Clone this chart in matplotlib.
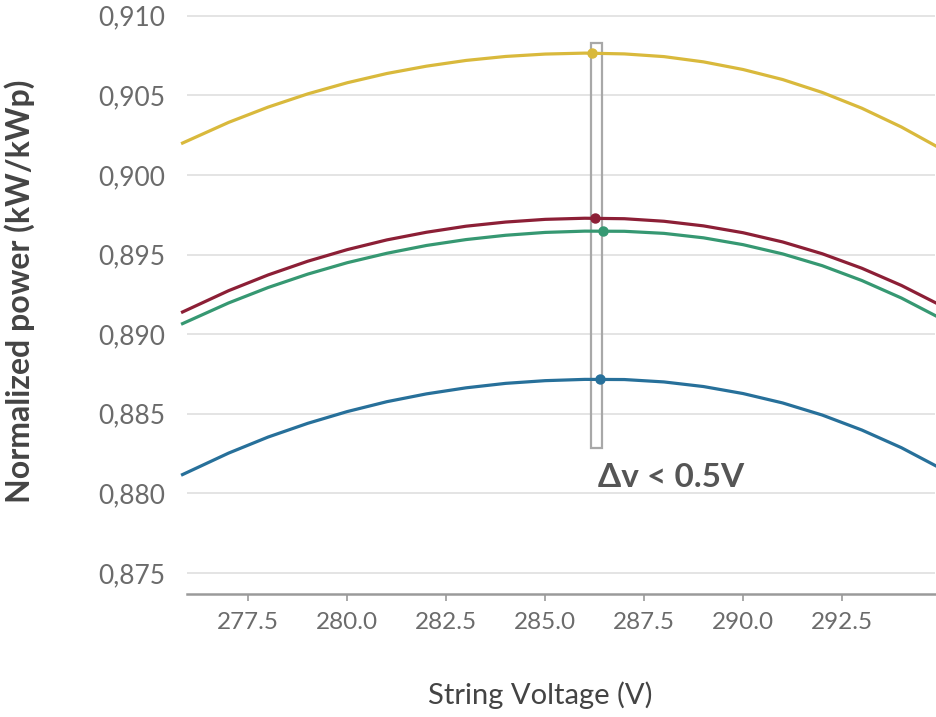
import matplotlib
matplotlib.use("Agg")
import matplotlib.pyplot as plt
from matplotlib.patches import Rectangle
from matplotlib.ticker import FixedLocator, FixedFormatter

plt.rcParams['font.family'] = ['Lato', 'DejaVu Sans']

# ---- data ----
voltage = [275.8, 277, 278, 279, 280, 281, 282, 283, 284, 285, 286,
           287, 288, 289, 290, 291, 292, 293, 294, 295]
power_yellow = [0.90196, 0.90330, 0.90426, 0.90509, 0.90579, 0.90637, 0.90683,
                0.90719, 0.90744, 0.90759, 0.90765, 0.90760, 0.90743, 0.90710,
                0.90662, 0.90599, 0.90518, 0.90419, 0.90301, 0.90164]
power_red = [0.89135, 0.89273, 0.89372, 0.89458, 0.89531, 0.89592, 0.89640,
             0.89678, 0.89704, 0.89721, 0.89728, 0.89725, 0.89709, 0.89680,
             0.89637, 0.89579, 0.89505, 0.89414, 0.89306, 0.89180]
power_green = [0.89062, 0.89196, 0.89293, 0.89377, 0.89449, 0.89508, 0.89557,
               0.89594, 0.89621, 0.89639, 0.89647, 0.89646, 0.89633, 0.89605,
               0.89562, 0.89504, 0.89430, 0.89337, 0.89227, 0.89098]
power_blue = [0.88114, 0.88253, 0.88354, 0.88440, 0.88514, 0.88576, 0.88625,
              0.88663, 0.88691, 0.88708, 0.88716, 0.88715, 0.88700, 0.88671,
              0.88627, 0.88568, 0.88492, 0.88398, 0.88287, 0.88156]

mpp_voltage = [286.17, 286.27, 286.47, 286.38]
mpp_power = [0.90765, 0.89728, 0.89648, 0.88717]

band_v = [286.15, 286.44]
band_p = [0.88285, 0.90829]

x_ticks = [277.5, 280.0, 282.5, 285.0, 287.5, 290.0, 292.5]
x_tick_labels = ["277.5", "280.0", "282.5", "285.0", "287.5", "290.0", "292.5"]
y_ticks = [0.875, 0.880, 0.885, 0.890, 0.895, 0.900, 0.905, 0.910]
y_tick_labels = ["0,875", "0,880", "0,885", "0,890", "0,895", "0,900", "0,905", "0,910"]

colors = ['#d9b93c', '#8c1f36', '#369872', '#27709a']
series = [power_yellow, power_red, power_green, power_blue]

# ---- figure ----
fig = plt.figure(figsize=(9.37, 7.17), dpi=100)
ax = fig.add_axes([0.1996, 0.1715, 0.7983, 0.8155])

ax.set_xlim(275.95, 294.85)
ax.set_ylim(0.87368, 0.9104)

ax.yaxis.set_major_locator(FixedLocator(y_ticks))
ax.yaxis.set_major_formatter(FixedFormatter(y_tick_labels))
ax.xaxis.set_major_locator(FixedLocator(x_ticks))
ax.xaxis.set_major_formatter(FixedFormatter(x_tick_labels))

ax.grid(axis='y', color='#e2e2e2', linewidth=1.3)
ax.set_axisbelow(True)
for s in ['top', 'right', 'left']:
    ax.spines[s].set_visible(False)
ax.spines['bottom'].set_color('#9a9a9a')
ax.spines['bottom'].set_linewidth(1.8)

ax.tick_params(axis='y', length=0, pad=16, labelsize=19, labelcolor='#6b6b6b')
ax.tick_params(axis='x', length=5, width=1.2, color='#9a9a9a', pad=8,
               labelsize=17.5, labelcolor='#6b6b6b')

rect = Rectangle((band_v[0], band_p[0]), band_v[1] - band_v[0], band_p[1] - band_p[0],
                 fill=False, edgecolor='#a8a8a8', linewidth=1.6, zorder=2)
ax.add_patch(rect)

for vals, c in zip(series, colors):
    ax.plot(voltage, vals, color=c, linewidth=2.3, clip_on=False, zorder=3,
            solid_capstyle='butt')
for v, p, c in zip(mpp_voltage, mpp_power, colors):
    ax.plot([v], [p], 'o', color=c, markersize=6.5, zorder=4)

ax.text(286.33, 0.88097, "\u0394v < 0.5V", fontsize=24, fontweight='bold',
        color='#555555', ha='left', va='center')

ax.set_ylabel("Normalized power (kW/kWp)", fontsize=23, fontweight='bold',
              color='#444444')
ax.yaxis.set_label_coords(-0.203, 0.517)
ax.set_xlabel("String Voltage (V)", fontsize=21, color='#444444')
ax.xaxis.set_label_coords(0.472, -0.150)

fig.savefig("out.png", dpi=100)
